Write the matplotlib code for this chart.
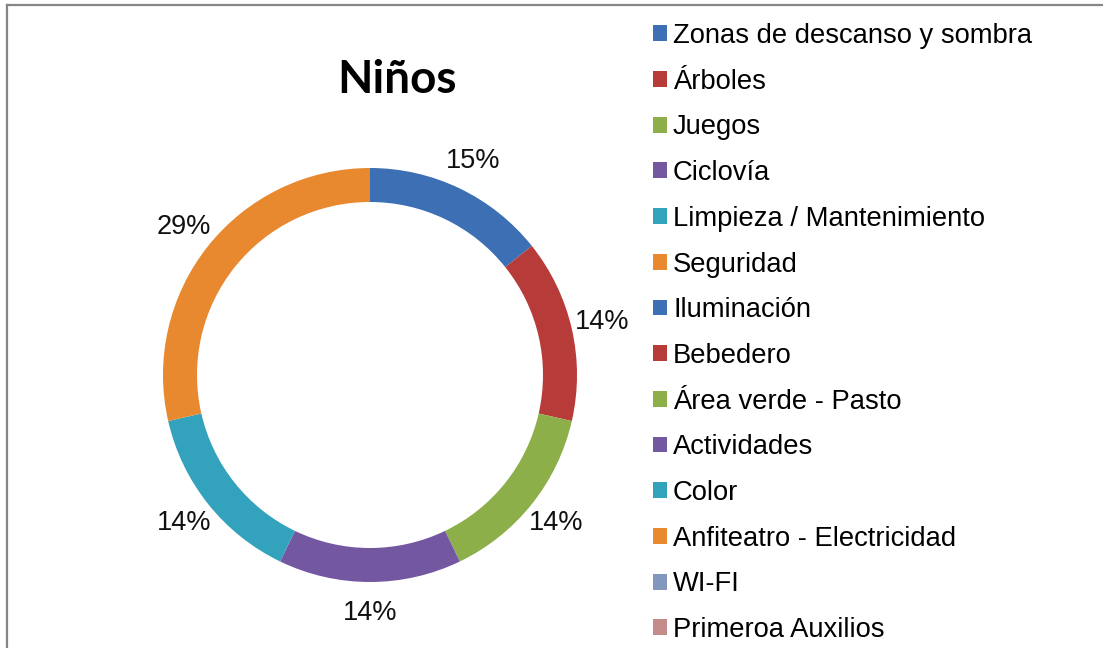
import matplotlib
matplotlib.use("Agg")
import matplotlib.pyplot as plt
import numpy as np
from matplotlib.lines import Line2D

# ---- data ----
categories = [
    "Zonas de descanso y sombra", "Árboles", "Juegos", "Ciclovía",
    "Limpieza / Mantenimiento", "Seguridad", "Iluminación", "Bebedero",
    "Área verde - Pasto", "Actividades", "Color", "Anfiteatro - Electricidad",
    "WI-FI", "Primeroa Auxilios",
]
counts = [1, 1, 1, 1, 1, 2, 0, 0, 0, 0, 0, 0, 0, 0]
pct_labels = ["15%", "14%", "14%", "14%", "14%", "29%"]
colors = [
    "#3d6fb4", "#b73c39", "#8caf4a", "#7457a1", "#33a2bc", "#e8892f",
    "#3d6fb4", "#b73c39", "#8caf4a", "#7457a1", "#33a2bc", "#e8892f",
    "#8197be", "#c48c8b",
]
title = "Niños"

W, H = 1103, 648
fig = plt.figure(figsize=(W / 100, H / 100), dpi=100)
fig.patch.set_facecolor("white")

# donut axes: centre at (370, 375) px from top-left, outer radius 207 px
cx, cy, R = 370, 375, 207
lim = 1.3
side = 2 * lim * R
ax = fig.add_axes([(cx - side / 2) / W, (H - cy - side / 2) / H, side / W, side / H])
wedges, _ = ax.pie(
    counts, colors=colors, startangle=90, counterclock=False,
    wedgeprops=dict(width=34 / 207, edgecolor="none", linewidth=0),
)
ax.set_xlim(-lim, lim)
ax.set_ylim(-lim, lim)
ax.set_aspect("equal")
ax.axis("off")

# percentage labels outside the ring
for w, lab in zip(wedges, pct_labels):
    mid = np.deg2rad((w.theta1 + w.theta2) / 2)
    r = 1.15
    ax.text(r * np.cos(mid), r * np.sin(mid), lab, ha="center", va="center",
            fontsize=19.5, family="Liberation Sans", color="#111111")

# title
fig.text(397 / W, 1 - 93 / H, title, ha="center", va="baseline",
         fontsize=33, fontweight="bold", family="Lato", color="black")

# legend
fs = 19.7
fs_px = fs * 100 / 72
leg = fig.legend(
    wedges, categories, loc="upper left",
    bbox_to_anchor=(653 / W, 1 - 23 / H), frameon=False,
    prop=dict(family="Liberation Sans", size=fs),
    handlelength=14 / fs_px, handleheight=14 / fs_px,
    handletextpad=6 / fs_px, labelspacing=0.72,
    borderpad=0, borderaxespad=0,
)

# frame border (top and left visible)
fig.add_artist(Line2D([7 / W, 7 / W], [0, 1 - 4.5 / H], transform=fig.transFigure,
                      color="#868686", lw=1.6))
fig.add_artist(Line2D([7 / W, 1], [1 - 4.5 / H, 1 - 4.5 / H], transform=fig.transFigure,
                      color="#868686", lw=1.6))

fig.savefig("out.png", dpi=100, facecolor="white")
